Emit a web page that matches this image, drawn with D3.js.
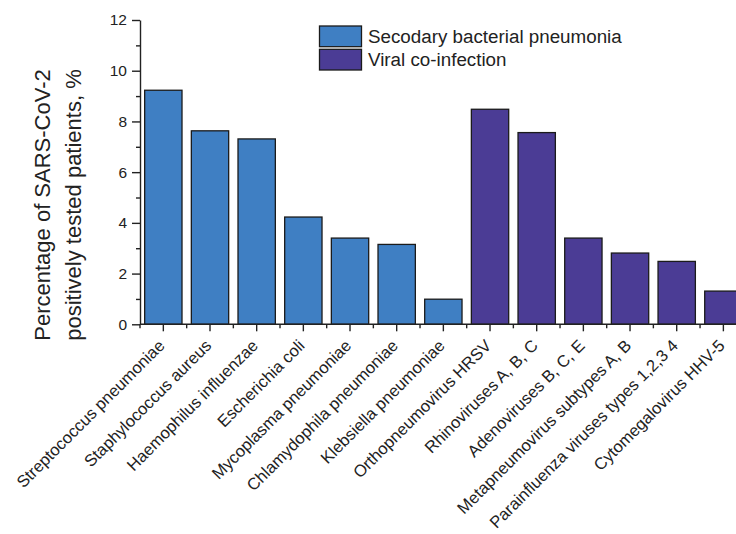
<!DOCTYPE html>
<html><head><meta charset="utf-8">
<script src="https://cdn.jsdelivr.net/npm/d3@7"></script>
<style>body{margin:0;background:#fff}svg{display:block;font-family:"Liberation Sans",Arial,sans-serif}</style>
</head><body><svg id="c" width="736" height="534"></svg>
<script>
const categories = ["Streptococcus pneumoniae","Staphylococcus aureus","Haemophilus influenzae","Escherichia coli","Mycoplasma pneumoniae","Chlamydophila pneumoniae","Klebsiella pneumoniae","Orthopneumovirus HRSV","Rhinoviruses A, B, C","Adenoviruses B, C, E","Metapneumovirus subtypes A, B","Parainfluenza viruses types 1,2,3 4","Cytomegalovirus HHV-5"];
const values = [9.23, 7.63, 7.31, 4.23, 3.40, 3.15, 0.99, 8.48, 7.56, 3.40, 2.81, 2.48, 1.31];
const groups = ["bact","bact","bact","bact","bact","bact","bact","viral","viral","viral","viral","viral","viral"];
const seriesNames = ["Secodary bacterial pneumonia","Viral co-infection"];
const seriesKeys = ["bact","viral"];
const colors = ["#3f7fc3","#4b3c95"];
const yTicks = [0,2,4,6,8,10,12];
const yMinorTicks = [1,3,5,7,9,11];
const yTitle = ["Percentage of SARS-CoV-2","positively tested patients, %"];

const svg = d3.select("#c");
const x0 = 140, y0 = 324.3, yTop = 20;
const step = 46.67;
const x = d3.scaleBand().domain(categories).range([x0, x0 + step*categories.length]).paddingInner(0.2).paddingOuter(0.1);
const y = d3.scaleLinear().domain([0,12]).range([y0, yTop]);
const color = d3.scaleOrdinal().domain(seriesKeys).range(colors);

// bars
svg.append("g").selectAll("rect").data(categories).join("rect")
  .attr("x", d => x(d)).attr("width", x.bandwidth())
  .attr("y", (d,i) => y(values[i])).attr("height", (d,i) => y(0) - y(values[i]))
  .attr("fill", (d,i) => color(groups[i])).attr("stroke", "#1b1b1b").attr("stroke-width", 1.3);

// y axis
const yAxis = svg.append("g").attr("transform", `translate(${x0},0)`)
  .call(d3.axisLeft(y).tickValues(yTicks).tickSize(8).tickSizeOuter(0).tickPadding(5).tickFormat(d3.format("d")));
yAxis.select(".domain").attr("stroke","#222").attr("stroke-width",1.4);
yAxis.selectAll(".tick line").attr("stroke","#222").attr("stroke-width",1.4);
yAxis.selectAll("text").attr("font-size",15.5).attr("fill","#222");
svg.append("g").attr("transform", `translate(${x0},0)`)
  .call(d3.axisLeft(y).tickValues(yMinorTicks).tickSize(4).tickFormat(""))
  .call(g => { g.select(".domain").remove(); g.selectAll("line").attr("stroke","#222").attr("stroke-width",1.4); });

// x axis
const xAxisG = svg.append("g").attr("transform", `translate(0,${y0})`);
xAxisG.append("line").attr("x1", x0).attr("x2", 736).attr("stroke","#222").attr("stroke-width",1.4);
xAxisG.selectAll("line.maj").data(categories).join("line").attr("class","maj")
  .attr("x1", d => x(d)+x.bandwidth()/2).attr("x2", d => x(d)+x.bandwidth()/2)
  .attr("y1",0).attr("y2",7).attr("stroke","#222").attr("stroke-width",1.4);
xAxisG.selectAll("line.min").data(d3.range(categories.length+1)).join("line").attr("class","min")
  .attr("x1", i => x0 + i*x.step()).attr("x2", i => x0 + i*x.step())
  .attr("y1",0).attr("y2",4).attr("stroke","#222").attr("stroke-width",1.4);
xAxisG.selectAll("text").data(categories).join("text")
  .attr("transform", d => `translate(${x(d)+x.bandwidth()/2-6},14) rotate(-45)`)
  .attr("text-anchor","end").attr("dy","0.71em").attr("font-size",16.6).attr("fill","#222").text(d => d);

// y title
const yt = svg.append("text").attr("transform","translate(42,205) rotate(-90)")
  .attr("text-anchor","middle").attr("font-size",22).attr("fill","#222");
yt.selectAll("tspan").data(yTitle).join("tspan").attr("x",0).attr("dy",(d,i)=> i===0 ? "0.35em" : "1.4em").text(d=>d);

// legend
const lg = svg.append("g");
seriesKeys.forEach((k,i) => {
  lg.append("rect").attr("x",319.5).attr("y",26+i*23.3).attr("width",42).attr("height",20.7)
    .attr("fill",color(k)).attr("stroke","#1b1b1b").attr("stroke-width",1.3);
  lg.append("text").attr("x",368).attr("y",36.5+i*23.3).attr("dy","0.35em")
    .attr("font-size",18.8).attr("fill","#222").text(seriesNames[i]);
});
</script></body></html>
